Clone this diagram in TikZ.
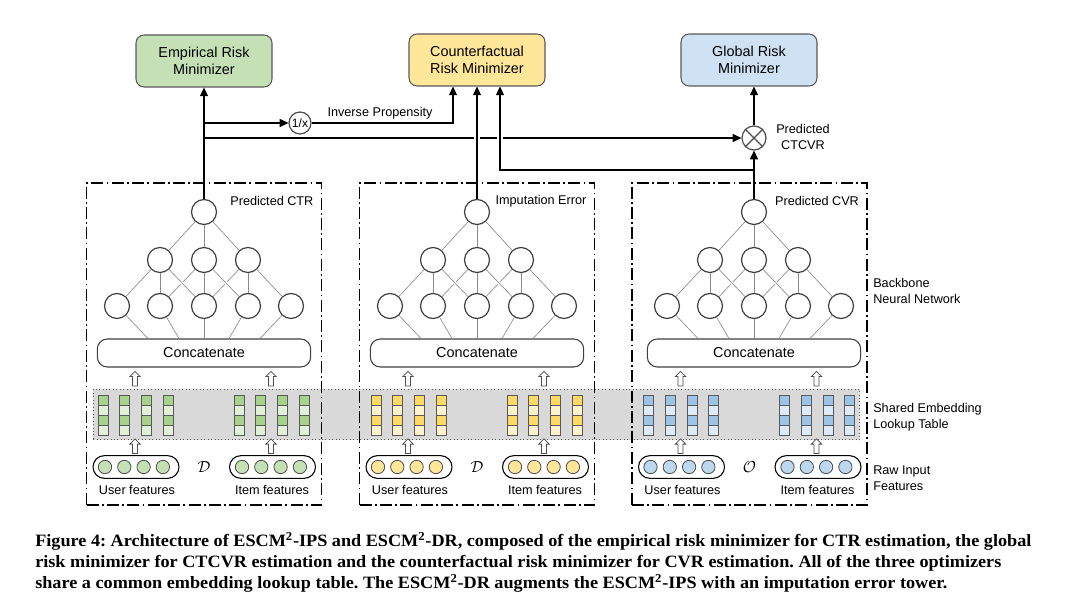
\documentclass[tikz,border=0pt]{standalone}
\usepackage{fontspec}
\setmainfont{Liberation Sans}
\newfontfamily\capfont[FakeStretch=1.05]{Liberation Serif}
\usetikzlibrary{arrows.meta, calc, shapes.arrows}
\frenchspacing

\definecolor{ermfill}{RGB}{197,224,180}
\definecolor{crmfill}{RGB}{255,230,153}
\definecolor{grmfill}{RGB}{207,226,243}
\definecolor{grndark}{RGB}{169,209,142}
\definecolor{grnlight}{RGB}{226,240,217}
\definecolor{grndot}{RGB}{197,224,180}
\definecolor{ylwdark}{RGB}{255,217,102}
\definecolor{ylwlight}{RGB}{255,242,204}
\definecolor{ylwdot}{RGB}{255,230,153}
\definecolor{bludark}{RGB}{157,195,230}
\definecolor{blulight}{RGB}{222,235,247}
\definecolor{bludot}{RGB}{189,215,238}
\definecolor{tablegray}{RGB}{217,217,217}
\definecolor{edgegray}{RGB}{89,89,89}

\tikzset{
  riskbox/.style={draw=edgegray, line width=0.8pt, rounded corners=6pt, minimum width=102pt,
    minimum height=39pt, align=center, font=\fontsize{10.8}{12.75}\selectfont},
  tower/.style={draw, line width=1.1pt, dash pattern=on 9pt off 2.5pt on 1.3pt off 2.5pt,
    minimum width=176.25pt, minimum height=241.5pt, inner sep=0pt},
  neuron/.style={circle, draw=black!75, fill=white, line width=0.9pt, minimum size=18.75pt, inner sep=0pt},
  link/.style={draw=black!45, line width=0.5pt},
  overlink/.style={link, preaction={draw=white, line width=2.5pt}},
  catbox/.style={draw=black!75, fill=white, line width=0.8pt, rounded corners=7.5pt, minimum width=160pt,
    minimum height=21pt, font=\fontsize{10.8}{13}\selectfont},
  embtable/.style={fill=tablegray, draw=black!65, dotted, line width=0.6pt},
  emcell/.style={draw=black!65, line width=0.5pt, minimum size=7.5pt, inner sep=0pt},
  hollowup/.style={single arrow, draw=black!70, fill=white, line width=0.6pt, shape border rotate=90,
    minimum height=11pt, inner sep=1.6pt, single arrow head extend=2pt},
  pill/.style={draw, fill=white, line width=0.8pt, rounded corners=8.5pt, minimum width=64.5pt, minimum height=17pt},
  featdot/.style={circle, draw=black!70, line width=0.6pt, minimum size=10pt, inner sep=0pt},
  lbl/.style={font=\fontsize{9.5}{12}\selectfont, inner sep=1pt},
  sidelbl/.style={lbl, align=left, anchor=west, inner sep=0pt},
  opcirc/.style={circle, draw=black!70, fill=white, line width=0.9pt, minimum size=16.5pt, inner sep=0pt,
    font=\fontsize{9}{10}\selectfont},
  flow/.style={->, line width=0.9pt},
  gap/.style={preaction={draw=white, line width=4pt, arrows=-, shorten <=20pt, shorten >=20pt}},
  caption/.style={font=\capfont\bfseries\fontsize{13}{15}\selectfont, inner sep=0pt, anchor=base west}
}

\begin{document}
\begin{tikzpicture}[x=0.75pt, y=-0.75pt, >={Triangle[length=6.5pt, width=6pt]}]
\useasboundingbox (0,0) rectangle (1071,609);

% Risk minimizers (top row)
\node (erm) at (204,61) [riskbox, fill=ermfill] {Empirical Risk\\Minimizer};
\node (crm) at (477,60) [riskbox, fill=crmfill] {Counterfactual\\Risk Minimizer};
\node (grm) at (749,60) [riskbox, fill=grmfill] {Global Risk\\Minimizer};

% Shared embedding table
\node (emb) at (476.5,414.5) [embtable, minimum width=575pt, minimum height=38pt] {};

% The three towers
\foreach \n/\nx/\bx/\dk/\lt/\dt/\sym/\txt in {1/204/204/grndark/grnlight/grndot/D/Predicted CTR,
    2/477/477/ylwdark/ylwlight/ylwdot/D/Imputation Error,
    3/754/749.5/bludark/blulight/bludot/O/Predicted CVR} {
  \node (twr\n) at (\bx,344) [tower] {};
  \node (pl\n) at ({\bx+111},201) [lbl, anchor=east] {\txt};

  % backbone network
  \node (top\n) at (\nx,212) [neuron] {};
  \foreach \i/\dx in {1/-44,2/0,3/44}
    \node (mid\n\i) at ({\nx+\dx},260) [neuron] {};
  \foreach \i/\dx in {1/-87,2/-44,3/0,4/44,5/87}
    \node (bot\n\i) at ({\nx+\dx},306) [neuron] {};
  \node (cat\n) at (\nx,353) [catbox] {Concatenate};

  \foreach \i in {1,2,3}
    \draw[link] (top\n) -- (mid\n\i);
  \foreach \i/\j in {1/1,1/2,2/2,2/3,3/3,3/4}
    \draw[link] (mid\n\i) -- (bot\n\j);
  \foreach \i/\j in {1/3,2/4,3/5}
    \draw[overlink] (mid\n\i) -- (bot\n\j);
  \foreach \i/\dx in {1/-56,2/-25,3/0,4/25,5/56}
    \draw[link] (bot\n\i) -- ($(cat\n.north)+(\dx,0)$);

  % embedding columns
  \foreach \c in {0,...,3} {
    \foreach \r/\col in {0/\dk,1/\lt,2/\dk,3/\lt} {
      \node (eu\n-\c-\r) at ({\bx-101+21.7*\c},{400+10*\r}) [emcell, fill=\col] {};
      \node (ei\n-\c-\r) at ({\bx+35+21.7*\c},{400+10*\r}) [emcell, fill=\col] {};
    }
  }

  % hollow arrows
  \node (ua\n) at ({\bx-69},380) [hollowup] {};
  \node (ia\n) at ({\bx+67},380) [hollowup] {};
  \node (ub\n) at ({\bx-69},447.5) [hollowup] {};
  \node (ib\n) at ({\bx+67},447.5) [hollowup] {};

  % raw input features
  \node (up\n) at ({\bx-68},467) [pill] {};
  \node (ip\n) at ({\bx+68.5},467) [pill] {};
  \foreach \d in {0,...,3} {
    \node (ud\n\d) at ({\bx-99+19.3*\d},467) [featdot, fill=\dt] {};
    \node (id\n\d) at ({\bx+38+19.3*\d},467) [featdot, fill=\dt] {};
  }
  \node (sym\n) at (\bx,467) {\large$\mathcal{\sym}$};
  \node (ul\n) at ({\bx-67},490) [lbl] {User features};
  \node (il\n) at ({\bx+68},490) [lbl] {Item features};
}

% Side labels
\node (bblbl) at (873,291) [sidelbl] {Backbone\\Neural Network};
\node (emlbl) at (873,417) [sidelbl] {Shared Embedding\\Lookup Table};
\node (rawlbl) at (873,478) [sidelbl] {Raw Input\\Features};

% Operators
\node (inv) at (300,123) [opcirc] {1/x};
\node (invlbl) at (380,113) [lbl] {Inverse Propensity};
\node (mul) at (754,138) [opcirc, minimum size=18pt] {};
\draw[line width=0.9pt, draw=black!70] (mul.45) -- (mul.225) (mul.135) -- (mul.315);
\node (mullbl) at (803,137) [lbl, align=center] {Predicted\\CTCVR};

% Connections to the minimizers
\coordinate (ipj) at (204,123);
\coordinate (ctj) at (204,138);
\coordinate (cvj) at (754,170);
\draw[flow] (top1) -- (erm);
\draw[flow] (ipj) -- (inv);
\draw[flow] (inv) -| ($(crm.south)+(-24,0)$);
\draw[flow] (ctj) -- (mul);
\draw[flow, gap] (top2) -- (crm);
\draw[flow, gap] (cvj) -| ($(crm.south)+(23,0)$);
\draw[flow] (top3) -- (mul);
\draw[flow] (mul) -- (mul |- grm.south);

% Caption
\node (cap1) at (35,546) [caption] {Figure 4: Architecture of ESCM\textsuperscript{2}-IPS and ESCM\textsuperscript{2}-DR, composed of the empirical risk minimizer for CTR estimation, the global};
\node (cap2) at (35,567) [caption] {risk minimizer for CTCVR estimation and the counterfactual risk minimizer for CVR estimation. All of the three optimizers};
\node (cap3) at (35,588) [caption] {share a common embedding lookup table. The ESCM\textsuperscript{2}-DR augments the ESCM\textsuperscript{2}-IPS with an imputation error tower.};

\end{tikzpicture}
\end{document}
